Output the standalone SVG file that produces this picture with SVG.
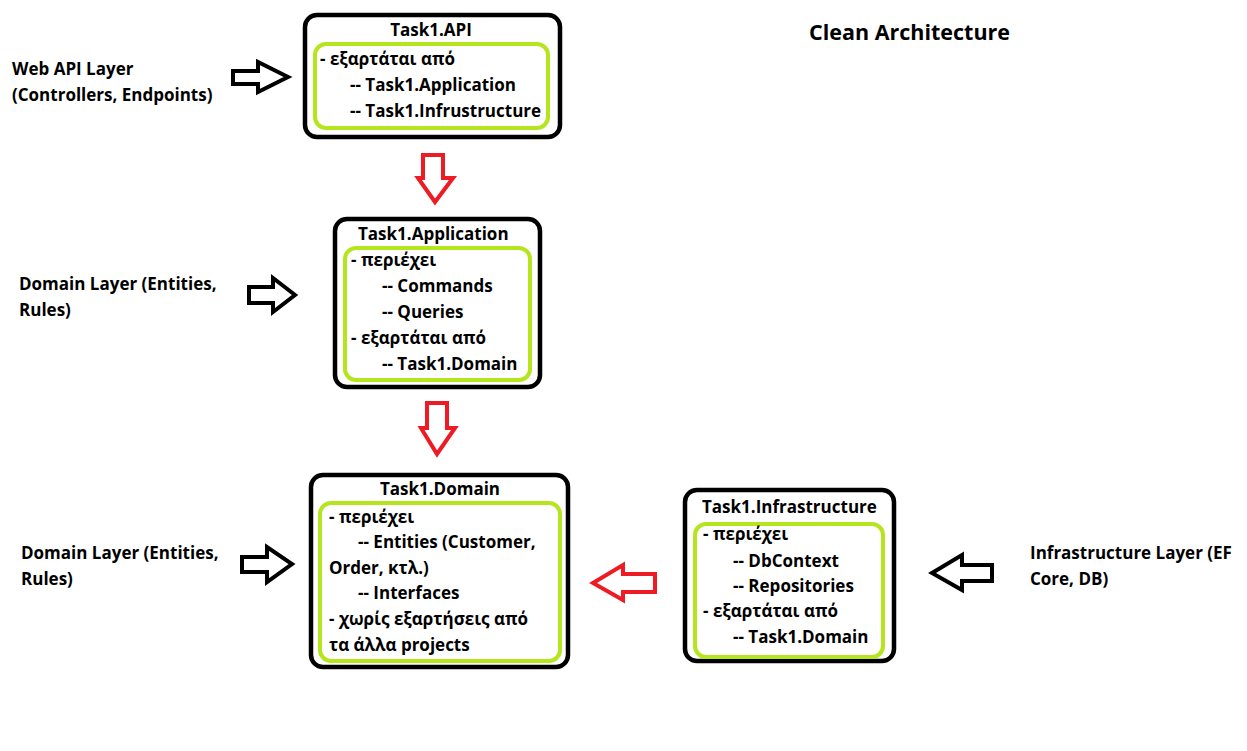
<svg xmlns="http://www.w3.org/2000/svg" width="1247" height="751" viewBox="0 0 1247 751">
<style>
text{font-family:"Open Sans","DejaVu Sans",sans-serif;font-weight:700;font-size:17px;fill:#000}
.title{font-size:21.5px}
.outer{fill:#fff;stroke:#000;stroke-width:4.5}
.inner{fill:none;stroke:#b5e61d;stroke-width:4}
.ab{fill:#fff;stroke:#000;stroke-width:4;stroke-linejoin:miter}
.ar{fill:#fff;stroke:#ed1c24;stroke-width:4;stroke-linejoin:miter}
.mid{text-anchor:middle}
</style>
<rect width="1247" height="751" fill="#fff"/>
<text class="title" x="809" y="40">Clean Architecture</text>
<g id="labels">
<text x="12" y="75">Web API Layer</text>
<text x="12" y="101">(Controllers, Endpoints)</text>
<text x="19" y="290">Domain Layer (Entities,</text>
<text x="19" y="316">Rules)</text>
<text x="21" y="559">Domain Layer (Entities,</text>
<text x="21" y="585">Rules)</text>
<text x="1030" y="559">Infrastructure Layer (EF</text>
<text x="1030" y="585">Core, DB)</text>
</g>
<g id="api">
<rect class="outer" x="305" y="15" width="255" height="122" rx="12"/>
<rect class="inner" x="315" y="44" width="233" height="84" rx="11"/>
<text class="mid" x="431" y="36">Task1.API</text>
<text x="320" y="65">- εξαρτάται από</text>
<text x="350" y="91">-- Task1.Application</text>
<text x="350" y="117">-- Task1.Infrustructure</text>
</g>
<g id="application">
<rect class="outer" x="335" y="219" width="205" height="168" rx="12"/>
<rect class="inner" x="345" y="248" width="185" height="132" rx="11"/>
<text x="358" y="240">Task1.Application</text>
<text x="351" y="266">- περιέχει</text>
<text x="382" y="292">-- Commands</text>
<text x="382" y="318">-- Queries</text>
<text x="351" y="344">- εξαρτάται από</text>
<text x="382" y="370">-- Task1.Domain</text>
</g>
<g id="domain">
<rect class="outer" x="311" y="475" width="257" height="192" rx="12"/>
<rect class="inner" x="320" y="503" width="240" height="158" rx="11"/>
<text class="mid" x="440" y="495">Task1.Domain</text>
<text x="329" y="523">- περιέχει</text>
<text x="358" y="548">-- Entities (Customer,</text>
<text x="329" y="574">Order, κτλ.)</text>
<text x="358" y="599">-- Interfaces</text>
<text x="329" y="625">- χωρίς εξαρτήσεις από</text>
<text x="329" y="651">τα άλλα projects</text>
</g>
<g id="infrastructure">
<rect class="outer" x="685" y="490" width="209" height="171" rx="12"/>
<rect class="inner" x="695" y="524" width="188" height="133" rx="11"/>
<text x="702" y="513">Task1.Infrastructure</text>
<text x="703" y="540">- περιέχει</text>
<text x="733" y="567">-- DbContext</text>
<text x="733" y="592">-- Repositories</text>
<text x="703" y="617">- εξαρτάται από</text>
<text x="733" y="643">-- Task1.Domain</text>
</g>
<g id="connectors">
<polygon class="ab" points="233,71 258,71 258,62 288,77 258,92 258,84 233,84"/>
<polygon class="ab" points="249,287 273,287 273,278 295,295 273,312 273,303 249,303"/>
<polygon class="ab" points="242,557 267,557 267,547 292,564 267,582 267,572 242,572"/>
<polygon class="ab" points="992,565 962,565 962,555 932,573 962,590 962,581 992,581"/>
<polygon class="ar" points="423,155 443,155 443,178 453,178 435,202 418,178 423,178"/>
<polygon class="ar" points="427,403 447,403 447,428 455,428 437,454 421,428 427,428"/>
<polygon class="ar" points="655,574 623,574 623,565 593,583 623,600 623,592 655,592"/>
</g>
</svg>
